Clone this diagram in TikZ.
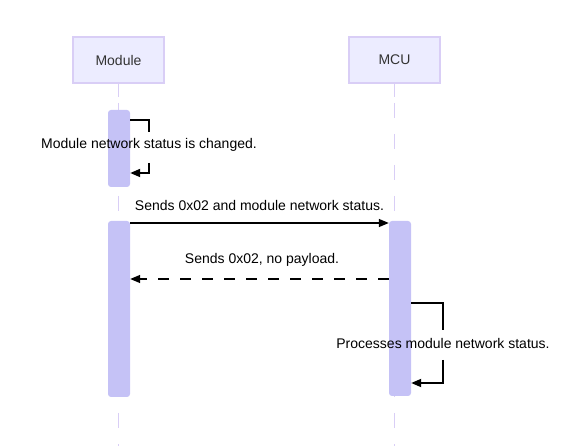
\documentclass[tikz,border=0pt]{standalone}
\usepackage{fontspec}
\setmainfont{Liberation Sans}
\usetikzlibrary{arrows.meta}
\definecolor{actfill}{HTML}{ECECFF}
\definecolor{actline}{HTML}{D9CEF6}
\definecolor{lifecol}{HTML}{D9CEF6}
\definecolor{barfill}{HTML}{C5C2F6}
\definecolor{txtgray}{HTML}{333333}
\begin{document}
\begin{tikzpicture}[x=1pt,y=-1pt,
 actor/.style={draw=actline, line width=1.5pt, fill=actfill, minimum width=91pt, minimum height=46pt, inner sep=0pt, font=\fontsize{14}{16}\selectfont, text=txtgray},
 life/.style={draw=lifecol, line width=1.6pt},
 lifedash/.style={life, dash pattern=on 15pt off 16pt},
 bar/.style={fill=barfill, rounded corners=3pt, minimum width=22pt, inner sep=0pt},
 msg/.style={line width=1.4pt, -{Triangle[length=10pt,width=8pt]}},
 loopline/.style={line width=1.8pt},
 lbl/.style={font=\fontsize{14}{16}\selectfont, text=black, inner sep=0pt}
]
\useasboundingbox (0,0) rectangle (576,446);

% actors
\node[actor] (mod) at (118.5,60) {Module};
\node[actor] (mcu) at (394.5,60) {MCU};

% lifelines
\coordinate (modA) at (118.5,97);
\coordinate (modB) at (118.5,103);
\coordinate (modEnd) at (118.5,446);
\coordinate (mcuA) at (394.5,97);
\coordinate (mcuB) at (394.5,103);
\coordinate (mcuEnd) at (394.5,446);
\draw[life] (mod.south) -- (modA);
\draw[lifedash] (modB) -- (modEnd);
\draw[life] (mcu.south) -- (mcuA);
\draw[lifedash] (mcuB) -- (mcuEnd);

% activation bars
\node[bar, minimum height=77pt] (a1) at (119,148.5) {};
\node[bar, minimum height=176pt] (a2) at (119,309) {};
\node[bar, minimum height=175pt] (b1) at (400,308.5) {};

% self loop 1
\coordinate (l1a) at (149,120);
\coordinate (l1b) at (149,132);
\coordinate (l1c) at (149,163);
\coordinate (l1d) at (149,173);
\draw[loopline] (a1.east |- l1a) -- (l1a) -- (l1b);
\draw[loopline, -{Triangle[length=10pt,width=8pt]}] (l1c) -- (l1d) -- (a1.east |- l1d);
\node[lbl] (t1) at (149,145) {Module network status is changed.};

% messages
\coordinate (m1) at (0,223);
\coordinate (m2) at (0,279);
\draw[msg] (a2.east |- m1) -- (b1.west |- m1);
\node[lbl] (t2) at (259.5,205) {Sends 0x02 and module network status.};
\draw[msg, dash pattern=on 11pt off 11pt] (b1.west |- m2) -- (a2.east |- m2);
\node[lbl] (t3) at (262,260) {Sends 0x02, no payload.};

% self loop 2
\coordinate (l2a) at (443,303);
\coordinate (l2b) at (443,330);
\coordinate (l2c) at (443,360);
\coordinate (l2d) at (443,383);
\draw[loopline] (b1.east |- l2a) -- (l2a) -- (l2b);
\draw[loopline, -{Triangle[length=10pt,width=8pt]}] (l2c) -- (l2d) -- (b1.east |- l2d);
\node[lbl] (t4) at (443,343) {Processes module network status.};
\end{tikzpicture}
\end{document}
